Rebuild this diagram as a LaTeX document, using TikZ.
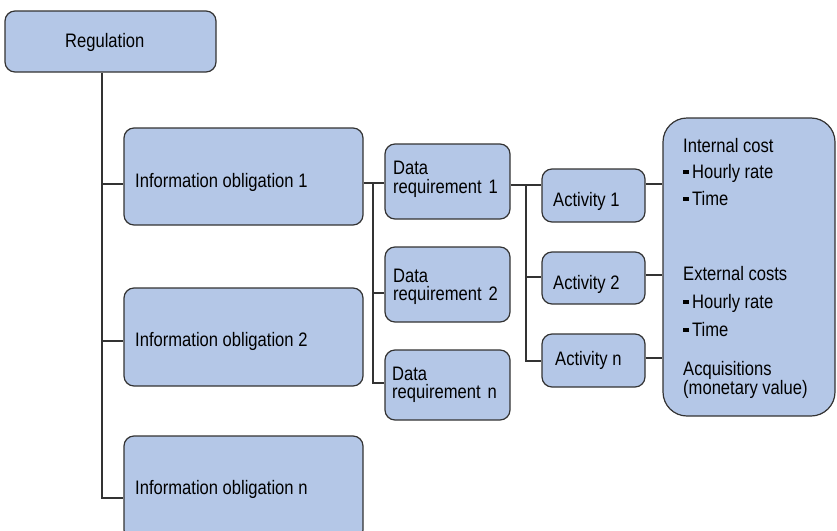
\documentclass[tikz,border=0pt]{standalone}
\usepackage{fontspec}
\setmainfont{Liberation Sans}[FakeStretch=0.85]
\definecolor{boxfill}{HTML}{B4C7E7}
\definecolor{boxline}{HTML}{333333}
\newcommand{\blt}{\rule[4pt]{6pt}{4.2pt}\hspace{3pt}}
\begin{document}
\begin{tikzpicture}[x=1pt,y=-1pt,
  every node/.style={font=\fontsize{19.5}{21}\selectfont},
  box/.style={draw=boxline,fill=boxfill,line width=1.2pt,rounded corners=10pt,
    inner sep=0pt},
  conn/.style={draw=boxline,line width=1.2pt},
  txt/.style={inner sep=0pt,anchor=base west}]
\useasboundingbox (0,0) rectangle (837,530);
% boxes
\node[box,minimum width=211pt,minimum height=61pt] (reg) at (110.5,41.5) {};
\node[box,minimum width=239pt,minimum height=97pt] (io1) at (243.5,176.5) {};
\node[box,minimum width=239pt,minimum height=98pt] (io2) at (243.5,337) {};
\node[box,minimum width=239pt,minimum height=104pt] (ion) at (243.5,488) {};
\node[box,minimum width=125pt,minimum height=75pt] (dr1) at (447.5,181.5) {};
\node[box,minimum width=125pt,minimum height=75pt] (dr2) at (447.5,284.5) {};
\node[box,minimum width=125pt,minimum height=70pt] (drn) at (447.5,385) {};
\node[box,minimum width=103pt,minimum height=53pt] (a1) at (593.5,195.5) {};
\node[box,minimum width=103pt,minimum height=52pt] (a2) at (593.5,278) {};
\node[box,minimum width=103pt,minimum height=53pt] (an) at (593.5,360.5) {};
\node[box,rounded corners=24pt,minimum width=172pt,minimum height=298pt] (cost) at (749,267) {};
% box texts
\node[txt] (treg) at (65,47) {Regulation};
\node[txt] (tio1) at (135,187) {Information obligation 1};
\node[txt] (tio2) at (135,346) {Information obligation 2};
\node[txt] (tion) at (135,494) {Information obligation n};
\node[txt] (tdr1a) at (393,174) {Data};
\node[txt] (tdr1b) at (393,193) {requirement\hspace{7pt}1};
\node[txt] (tdr2a) at (393,282) {Data};
\node[txt] (tdr2b) at (393,300) {requirement\hspace{7pt}2};
\node[txt] (tdrna) at (392,380) {Data};
\node[txt] (tdrnb) at (392,398) {requirement\hspace{7pt}n};
\node[txt] (ta1) at (553,206) {Activity 1};
\node[txt] (ta2) at (553,289) {Activity 2};
\node[txt] (tan) at (555,365) {Activity n};
% cost texts
\node[txt] (t1) at (683,152) {Internal cost};
\node[txt] (t2) at (683,178) {\blt Hourly rate};
\node[txt] (t3) at (683,205) {\blt Time};
\node[txt] (t4) at (683,280) {External costs};
\node[txt] (t5) at (683,308) {\blt Hourly rate};
\node[txt] (t6) at (683,336) {\blt Time};
\node[txt] (t7) at (683,375) {Acquisitions};
\node[txt] (t8) at (683,394) {(monetary value)};
% connectors
\coordinate (b1) at (102,0);
\draw[conn] (reg.south -| b1) -- (102,498) -- (ion.west |- 0,498);
\draw[conn] (b1 |- 0,184) -- (io1.west |- 0,184);
\draw[conn] (b1 |- 0,341) -- (io2.west |- 0,341);
\coordinate (b2) at (373,0);
\draw[conn] (io1.east |- 0,183) -- (dr1.west |- 0,183);
\draw[conn] (b2 |- 0,183) -- (b2 |- 0,383) -- (drn.west |- 0,383);
\draw[conn] (b2 |- 0,293) -- (dr2.west |- 0,293);
\coordinate (b3) at (526,0);
\draw[conn] (dr1.east |- 0,185) -- (a1.west |- 0,185);
\draw[conn] (b3 |- 0,185) -- (b3 |- 0,361) -- (an.west |- 0,361);
\draw[conn] (b3 |- 0,277) -- (a2.west |- 0,277);
\draw[conn] (a1.east |- 0,184) -- (cost.west |- 0,184);
\draw[conn] (a2.east |- 0,275) -- (cost.west |- 0,275);
\draw[conn] (an.east |- 0,358) -- (cost.west |- 0,358);
\end{tikzpicture}
\end{document}
